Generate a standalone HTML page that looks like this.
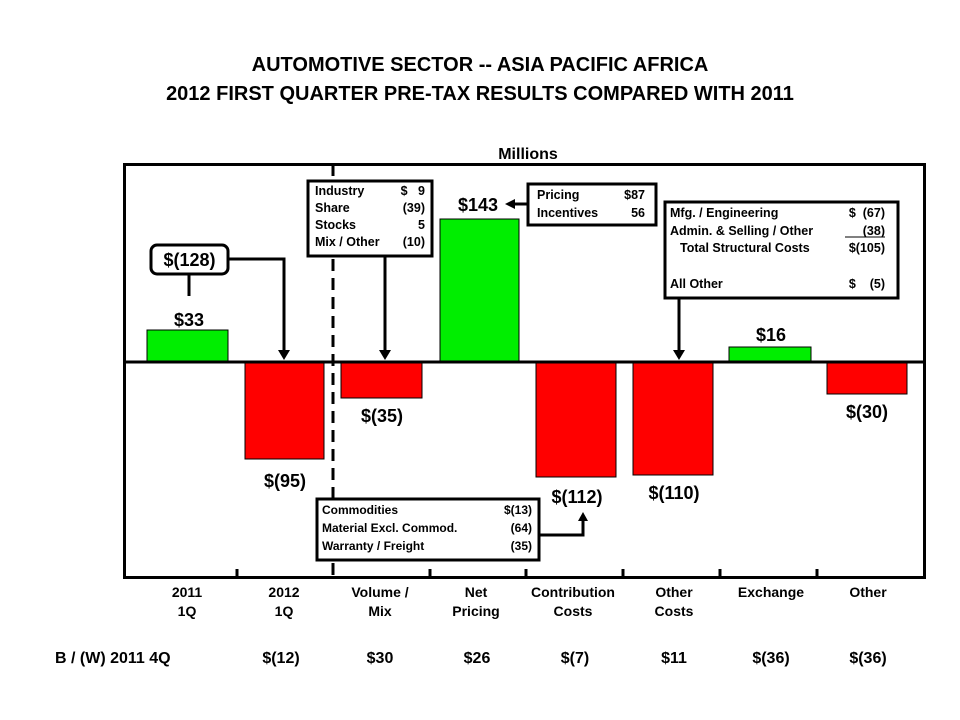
<!DOCTYPE html><html><head><style>body{margin:0;background:#fff}svg{display:block}text{font-family:"Liberation Sans",Arial,sans-serif;font-weight:bold;fill:#000;white-space:pre}</style></head><body>
<svg width="960" height="720" viewBox="0 0 960 720">
<text x="480" y="71" font-size="20" text-anchor="middle">AUTOMOTIVE SECTOR -- ASIA PACIFIC AFRICA</text>
<text x="480" y="100" font-size="20" text-anchor="middle">2012 FIRST QUARTER PRE-TAX RESULTS COMPARED WITH 2011</text>
<text x="528" y="159" font-size="16" text-anchor="middle">Millions</text>
<rect x="124.5" y="164.5" width="800" height="413" fill="none" stroke="#000" stroke-width="3"/>
<g stroke="#000" stroke-width="1">
<rect x="147" y="330" width="81" height="32" fill="#00ee00"/>
<rect x="245" y="362" width="79" height="97" fill="#ff0000"/>
<rect x="341" y="362" width="81" height="36" fill="#ff0000"/>
<rect x="440" y="219" width="79" height="143" fill="#00ee00"/>
<rect x="536" y="362" width="80" height="115" fill="#ff0000"/>
<rect x="633" y="362" width="80" height="113" fill="#ff0000"/>
<rect x="729" y="347" width="82" height="15" fill="#00ee00"/>
<rect x="827" y="362" width="80" height="32" fill="#ff0000"/>
</g>
<line x1="124" y1="362" x2="925" y2="362" stroke="#000" stroke-width="3"/>
<line x1="333" y1="164" x2="333" y2="578" stroke="#000" stroke-width="3" stroke-dasharray="12,7"/>
<g stroke="#000" stroke-width="3">
<line x1="237" y1="569" x2="237" y2="578"/><line x1="430" y1="569" x2="430" y2="578"/><line x1="526" y1="569" x2="526" y2="578"/><line x1="623" y1="569" x2="623" y2="578"/><line x1="720" y1="569" x2="720" y2="578"/><line x1="817" y1="569" x2="817" y2="578"/>
</g>
<g stroke="#000" stroke-width="3" fill="none">
<line x1="189" y1="274" x2="189" y2="296"/>
<polyline points="228,259 284,259 284,352"/>
<line x1="385" y1="256" x2="385" y2="352"/>
<line x1="527" y1="204" x2="513" y2="204"/>
<line x1="679" y1="298" x2="679" y2="352"/>
<polyline points="540,535 583,535 583,520"/>
</g>
<g fill="#000">
<polygon points="278,350 290,350 284,360"/>
<polygon points="379,350 391,350 385,360"/>
<polygon points="673,350 685,350 679,360"/>
<polygon points="515,199 515,209 505,204"/>
<polygon points="578,521 588,521 583,512"/>
</g>
<rect x="151" y="245" width="77" height="29" rx="6" fill="#fff" stroke="#000" stroke-width="3"/>
<text x="189.5" y="266" font-size="18" text-anchor="middle">$(128)</text>
<rect x="308" y="181" width="124" height="75" fill="#fff" stroke="#000" stroke-width="3"/>
<g font-size="12.5">
<text x="315" y="195">Industry</text><text x="425" y="195" text-anchor="end">$   9</text>
<text x="315" y="212">Share</text><text x="425" y="212" text-anchor="end">(39)</text>
<text x="315" y="229">Stocks</text><text x="425" y="229" text-anchor="end">5</text>
<text x="315" y="246">Mix / Other</text><text x="425" y="246" text-anchor="end">(10)</text>
</g>
<rect x="528" y="184" width="128" height="41" fill="#fff" stroke="#000" stroke-width="3"/>
<g font-size="12.5">
<text x="537" y="199">Pricing</text><text x="645" y="199" text-anchor="end">$87</text>
<text x="537" y="217">Incentives</text><text x="645" y="217" text-anchor="end">56</text>
</g>
<rect x="665" y="202" width="233" height="96" fill="#fff" stroke="#000" stroke-width="3"/>
<g font-size="12.5">
<text x="670" y="217">Mfg. / Engineering</text><text x="885" y="217" text-anchor="end">$  (67)</text>
<text x="670" y="235">Admin. &amp; Selling / Other</text><text x="885" y="235" text-anchor="end">(38)</text>
<line x1="845" y1="237" x2="885" y2="237" stroke="#000" stroke-width="1"/>
<text x="680" y="252">Total Structural Costs</text><text x="885" y="252" text-anchor="end">$(105)</text>
<text x="670" y="288">All Other</text><text x="885" y="288" text-anchor="end">$    (5)</text>
</g>
<rect x="317" y="499" width="222" height="61" fill="#fff" stroke="#000" stroke-width="3"/>
<g font-size="12">
<text x="322" y="514">Commodities</text><text x="532" y="514" text-anchor="end">$(13)</text>
<text x="322" y="532">Material Excl. Commod.</text><text x="532" y="532" text-anchor="end">(64)</text>
<text x="322" y="550">Warranty / Freight</text><text x="532" y="550" text-anchor="end">(35)</text>
</g>
<g font-size="18" text-anchor="middle">
<text x="189" y="326">$33</text><text x="285" y="487">$(95)</text><text x="382" y="422">$(35)</text>
<text x="478" y="211">$143</text><text x="577" y="503">$(112)</text><text x="674" y="499">$(110)</text>
<text x="771" y="341">$16</text><text x="867" y="418">$(30)</text>
</g>
<g font-size="14" text-anchor="middle">
<text x="187" y="597">2011</text><text x="187" y="616">1Q</text>
<text x="284" y="597">2012</text><text x="284" y="616">1Q</text>
<text x="380" y="597">Volume /</text><text x="380" y="616">Mix</text>
<text x="476" y="597">Net</text><text x="476" y="616">Pricing</text>
<text x="573" y="597">Contribution</text><text x="573" y="616">Costs</text>
<text x="674" y="597">Other</text><text x="674" y="616">Costs</text>
<text x="771" y="597">Exchange</text><text x="868" y="597">Other</text>
</g>
<g font-size="16" text-anchor="middle">
<text x="55" y="663" text-anchor="start">B / (W) 2011 4Q</text>
<text x="281" y="663">$(12)</text><text x="380" y="663">$30</text><text x="477" y="663">$26</text>
<text x="575" y="663">$(7)</text><text x="674" y="663">$11</text><text x="771" y="663">$(36)</text><text x="868" y="663">$(36)</text>
</g>
</svg></body></html>
